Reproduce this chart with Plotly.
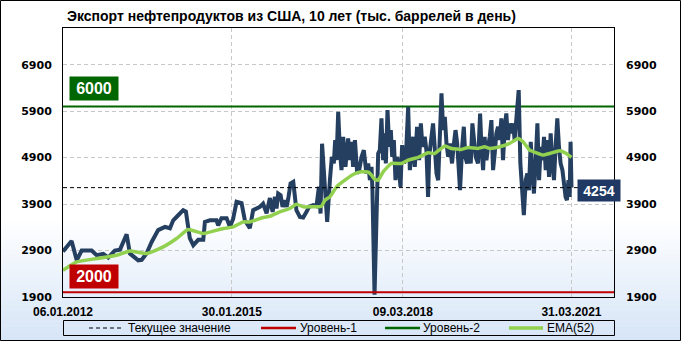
import numpy as np
import pandas as pd
import plotly.graph_objects as go

# ---------------- data ----------------
title_text = "Экспорт нефтепродуктов из США, 10 лет (тыс. баррелей в день)"
start_date = "2012-01-06"

# weeks since 06.01.2012 and weekly values (thousand barrels per day)
main_weeks = [0, 8.2, 13, 17.7, 27.2, 31.9, 38.2, 42.9, 49.2, 54, 60.3, 63.4, 71.3, 74.5, 79.2, 84,
              90.2, 96.6, 101.3, 104.4, 109.2, 113.9, 116.4, 117.7, 120.2, 123.4, 128.1, 132.8, 134.4,
              139.2, 145.5, 147, 150.2, 155, 158.1, 161.2, 164.4, 169.2, 172.3, 177, 180.2, 186.5,
              189.6, 192.9, 196,
              198.5, 200.7, 202.3, 203.9, 206.1, 208, 210.2, 211.8, 213.4, 215.6, 218.1, 219.7, 221.2,
              224.4, 227.6, 230.7, 233.2, 237, 240.2, 242.4, 244, 245.5, 247.4, 249, 250.3, 252.8,
              254.7, 256.6, 257.9, 259.1, 260.7, 262.3, 263.9, 265.4, 267.6, 270.2, 271.7, 273.3,
              274.9, 276.5, 278.7, 280.6, 282.8, 285, 287.5, 289.1, 290.7, 292.3, 293.2, 295.1,
              298.6, 300.1, 301.7, 303.3, 304.9, 305.8, 307.4, 309, 310.5, 311.8, 313.4, 315, 316.5,
              318.1, 319.7, 321.3, 323.2, 324.8, 327, 328.5, 330.1, 331.7, 333.3, 335.5, 337.4, 339,
              340.5, 342.7, 344.3, 345.9, 346.8, 349, 350.6, 352.2, 353.8, 355.4, 356.9, 358.5, 360.1,
              361.7, 363.3, 364.8, 366.4, 368.6, 370.2, 371.8, 373.4, 374.9, 376.2, 378.1, 379.7,
              381.2, 382.8, 384.4, 386.3, 387.9, 389.4, 391, 393.2, 395.2,
              396.4, 398, 399.5, 401.1, 402.7, 404.3, 405.8, 407.4, 409, 410.6, 412.2, 413.7, 415.3,
              416.9, 418.5, 420, 421.6, 423.2, 424.8, 426.4, 427.9, 429.5, 431.7, 433.3, 434.9, 436.5,
              438.4, 439.9, 441.5, 443.1, 444.7, 446.2, 447.8, 449.4, 451, 452.6, 454.1, 455.7, 457.3,
              458.9, 460.4, 462, 463.6, 465.2, 466.8, 468.3, 469.9, 471.5, 473.1, 474.6, 476.2, 477.5,
              478.8, 480, 480.9, 481.7]
main_values = [2880, 3105, 2690, 2900, 2900, 2800, 2830, 2750, 2900, 2920, 3250, 2835, 2690, 2700, 2835, 3085,
               3340, 3410, 3380, 3550, 3660, 3770, 3740, 3560, 3165, 3015, 3130, 3130, 3515,
               3550, 3550, 3440, 3595, 3595, 3410, 3580, 3950, 3920, 3550, 3380, 3770, 3840,
               3910, 3700, 4030,
               3732, 4055, 3805, 4128, 4092, 3840, 3984, 3840, 4020, 4344, 4378, 4055, 3768,
               3624, 3611, 3732, 3840, 3876, 3855, 4271, 3697, 5200, 4559, 3984, 3516, 4415,
               4917, 4775, 5277, 4846, 5887, 5061, 4630, 5348, 4702, 5313, 4846, 5240,
               4702, 5277, 4559, 4630, 4917, 5061, 4559, 4775, 4415, 4702, 4199, 1950,
               4989, 5061, 5745, 4846, 5421, 4775, 5923, 5133, 5492, 4917, 5277, 4415, 4917,
               4702, 4271, 5169, 4775, 4917, 5995, 4630, 4917, 5348, 4702, 5564, 4846, 5636,
               5133, 5348, 5061, 4055, 4917, 5348, 5636, 5133, 4559, 4415, 5133, 6283, 5492,
               5779, 5206, 4917, 5206, 4775, 5169, 5492, 5206, 4775, 4199, 5133, 5564,
               4917, 4775, 5133, 4775, 5636, 5133, 4917, 4775, 5850,
               5133, 4630, 5348, 4846, 5133, 5348, 5708, 4630, 4990, 5421, 5564, 5277, 5745,
               4846, 5564, 5850, 5277, 5636, 5421, 5636, 5277, 5636, 6354, 4775, 4199, 3661,
               4415, 4559, 4199, 5240, 4559, 4128, 4846, 5636, 4415, 5133, 4846, 5348, 4630,
               5277, 4486, 5421, 4775, 4415, 5206, 5745, 5133, 4775, 4630, 4344, 4055, 3985,
               4415, 4055, 5240, 4254]

ema_weeks = [0, 13, 31.9, 50.8, 63.4, 79.2, 95, 107.6, 118.6, 132.8, 151.8, 161.2, 170.7, 177, 189.6,
             196, 205.5, 214.9, 221.2, 227.6, 233.9, 244.9, 248.1, 252.8, 259.1, 267, 274.9, 282.8,
             289.1, 292.3, 295.4, 298.6, 303.3, 311.2, 320.6, 327, 336.4, 345.9, 352.2, 361.7, 368,
             377.5, 383.8, 393.2, 399.5, 404.3, 413.7, 423.2, 431.1, 435.8, 442.1, 448.5, 454.8,
             461.1, 470.5, 476.9, 481.7]
ema_values = [2475, 2654, 2727, 2799, 2891, 2835, 2978, 3158, 3352, 3266, 3374, 3409, 3516, 3516, 3611,
              3639, 3732, 3805, 3898, 3840, 3840, 3855, 3984, 4055, 4271, 4415, 4537, 4594,
              4587, 4523, 4430, 4415, 4594, 4775, 4775, 4846, 4904, 5003, 4990, 5148, 5098,
              5076, 5119, 5098, 5133, 5098, 5133, 5206, 5313, 5240, 5061, 5003, 4954,
              4990, 5047, 4990, 4904]

current_value = 4254
level1_value = 2000
level2_value = 6000

tick_dates = ["2012-01-06", "2015-01-30", "2018-03-09", "2021-03-31"]
tick_labels = ["06.01.2012", "30.01.2015", "09.03.2018", "31.03.2021"]
y_ticks = [1900, 2900, 3900, 4900, 5900, 6900]
x_range = ["2012-01-06", "2022-01-07"]
y_range = [1900, 7690]

legend_names = ["Текущее значение", "Уровень-1", "Уровень-2", "EMA(52)"]

# ---------------- styling ----------------
NAVY = "#253f61"
EMA_GREEN = "#92d050"
LVL2_GREEN = "#006600"
LVL1_RED = "#c00000"
BOX_NAVY = "#1f3864"

W, H = 681, 341
L, R, T, B = 63, 614, 28, 297
PW, PH = R - L, B - T


def px(xp):
    return (xp - L) / PW


def py(yp):
    return (B - yp) / PH


def to_dates(weeks):
    return pd.Timestamp(start_date) + pd.to_timedelta(np.round(np.array(weeks) * 7), unit="D")


fig = go.Figure()

fig.add_trace(go.Scatter(x=x_range, y=[level1_value] * 2, mode="lines",
                         line=dict(color=LVL1_RED, width=2), yaxis="y2",
                         name=legend_names[1], hoverinfo="skip"))
fig.add_trace(go.Scatter(x=x_range, y=[level2_value] * 2, mode="lines",
                         line=dict(color=LVL2_GREEN, width=2),
                         name=legend_names[2], hoverinfo="skip"))
fig.add_trace(go.Scatter(x=to_dates(main_weeks), y=main_values, mode="lines",
                         line=dict(color=NAVY, width=4, shape="linear"), name="Экспорт"))
fig.add_trace(go.Scatter(x=to_dates(ema_weeks), y=ema_values, mode="lines",
                         line=dict(color=EMA_GREEN, width=3.5, shape="spline", smoothing=0.4),
                         name=legend_names[3]))
fig.add_trace(go.Scatter(x=x_range, y=[current_value] * 2, mode="lines",
                         line=dict(color="black", width=1, dash="4px,3px"),
                         name=legend_names[0], hoverinfo="skip"))

shapes = []
# background gradient (white -> light blue at bottom)
top_c = np.array([255, 255, 255])
bot_c = np.array([214, 229, 248])
g0, g1 = 222, 341
n = 30
for i in range(n):
    ya = g0 + (g1 - g0) * i / n
    yb = g0 + (g1 - g0) * (i + 1) / n
    t = (i + 0.5) / n
    c = (top_c + (bot_c - top_c) * t).astype(int)
    shapes.append(dict(type="rect", xref="paper", yref="paper", layer="below",
                       x0=px(0), x1=px(W), y0=py(yb + 0.5), y1=py(ya),
                       fillcolor=f"rgb({c[0]},{c[1]},{c[2]})", line=dict(width=0)))
# outer frame
shapes.append(dict(type="rect", xref="paper", yref="paper", layer="above",
                   x0=px(0.5), x1=px(W - 0.5), y0=py(H - 0.5), y1=py(0.5),
                   line=dict(color="black", width=1), fillcolor="rgba(0,0,0,0)"))
# legend box
ly0, ly1 = 320.5, 335.5
shapes.append(dict(type="rect", xref="paper", yref="paper", layer="above",
                   x0=px(63.5), x1=px(614.5), y0=py(ly1), y1=py(ly0),
                   line=dict(color="black", width=1), fillcolor="rgba(0,0,0,0)"))
ly = 328
samples = [(89, 122, "black", 1, "4px,3px"), (261, 296, LVL1_RED, 2.5, "solid"),
           (385, 420, LVL2_GREEN, 2.5, "solid"), (509, 543, EMA_GREEN, 3.5, "solid")]
for x0, x1, col, wd, ds in samples:
    shapes.append(dict(type="line", xref="paper", yref="paper", layer="above",
                       x0=px(x0), x1=px(x1), y0=py(ly), y1=py(ly),
                       line=dict(color=col, width=wd, dash=ds)))

annotations = []
annotations.append(dict(text=title_text, xref="paper", yref="paper", x=px(65), y=py(16),
                        xanchor="left", yanchor="middle", showarrow=False,
                        font=dict(family="Liberation Sans", size=14, color="black", weight="bold")))
text_x = [126, 298, 421, 545]
for tx, name in zip(text_x, legend_names):
    annotations.append(dict(text=name, xref="paper", yref="paper", x=px(tx), y=py(ly),
                            xanchor="left", yanchor="middle", showarrow=False,
                            font=dict(family="Liberation Sans", size=12, color="black")))
# level labels
annotations.append(dict(text=str(level2_value), xref="paper", yref="paper", x=px(94.3), y=py(88),
                        xanchor="center", yanchor="middle", showarrow=False,
                        bgcolor=LVL2_GREEN, width=44, height=19, borderpad=2,
                        font=dict(family="Liberation Sans", size=16, color="white", weight="bold")))
annotations.append(dict(text=str(level1_value), xref="paper", yref="paper", x=px(94.3), y=py(276.2),
                        xanchor="center", yanchor="middle", showarrow=False,
                        bgcolor=LVL1_RED, width=44, height=19, borderpad=2,
                        font=dict(family="Liberation Sans", size=16, color="white", weight="bold")))
annotations.append(dict(text=str(current_value), xref="paper", yref="paper", x=px(599.2), y=py(190.4),
                        xanchor="center", yanchor="middle", showarrow=False,
                        bgcolor=BOX_NAVY, width=38, height=17, borderpad=2,
                        font=dict(family="Liberation Sans", size=14, color="white", weight="bold")))

tickfont_y = dict(family="DejaVu Sans", size=11, color="black", weight="bold")
fig.update_layout(
    width=W, height=H,
    margin=dict(l=L, r=W - R, t=T, b=H - B),
    paper_bgcolor="white", plot_bgcolor="rgba(0,0,0,0)",
    showlegend=False,
    shapes=shapes, annotations=annotations,
    xaxis=dict(type="date", range=x_range, tickvals=tick_dates, ticktext=tick_labels,
               showgrid=True, gridcolor="#c8c8c8", griddash="4px,3px", gridwidth=1,
               showline=True, linecolor="black", linewidth=1, mirror=True, ticks="",
               zeroline=False, ticklabelstandoff=4,
               tickfont=dict(family="Liberation Sans", size=12, color="black", weight="bold")),
    yaxis=dict(range=y_range, tickvals=y_ticks, showgrid=True, gridcolor="#c8c8c8",
               griddash="4px,3px", gridwidth=1, showline=True, linecolor="black", linewidth=1,
               mirror=True, ticks="", zeroline=False, tickfont=tickfont_y, ticklabelstandoff=8),
    yaxis2=dict(range=y_range, tickvals=y_ticks, overlaying="y", side="right", showgrid=False,
                showline=False, ticks="", zeroline=False, tickfont=tickfont_y, ticklabelstandoff=11),
)

fig.write_html("out.html")
